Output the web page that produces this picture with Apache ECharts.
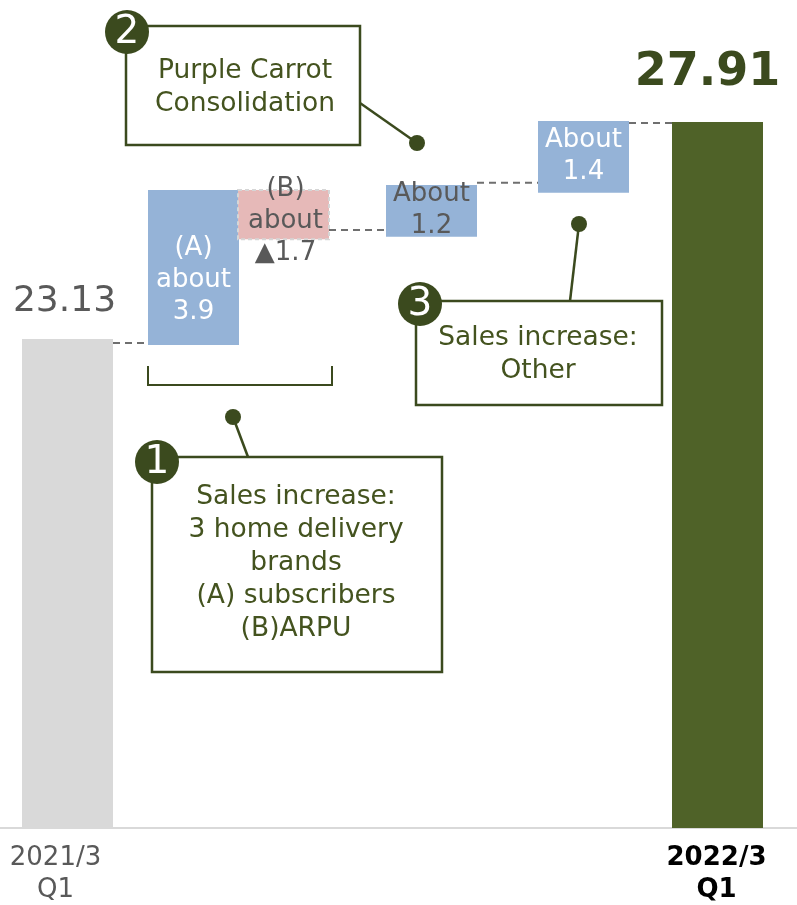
<!DOCTYPE html>
<html>
<head>
<meta charset="utf-8">
<title>Sales bridge 2021/3 Q1 - 2022/3 Q1</title>
<script src="https://cdn.jsdelivr.net/npm/echarts@6/dist/echarts.min.js"></script>
<style>
  html, body { margin: 0; padding: 0; background: #fff; }
  #main-chart { width: 797px; height: 905px; }
</style>
</head>
<body>
<div id="main-chart"></div>
<script>
// ---- data ----
const periods = ['2021/3\nQ1', '2022/3\nQ1']
const totals = [23.13, 27.91]
const stepNames = ['(A)', '(B)', '', '']
const stepWords = ['about', 'about', 'About', 'About']
const stepValues = [3.9, -1.7, 1.2, 1.4]
// the steps are not drawn to scale in the original, so these are the drawn extents
const stepFrom = [23.00, 26.41, 25.38, 26.35]
const stepTo = [26.41, 25.33, 26.52, 27.93]
// dashed connector levels between neighbouring bars
const connectorLevels = [23.04, 25.53, 26.57, 27.89]

// ---- layout ----
const W = 797
const AXIS_BOTTOM = 77
const PX_PER_UNIT = (339 - 122) / (totals[1] - totals[0])
const Y_MIN = totals[0] - (828 - 339) / PX_PER_UNIT
const Y_MAX = totals[1] + 122 / PX_PER_UNIT
const BAR_W = 91
const BAR_X = [67.5, 193.5, 283.5, 431.5, 583.5, 717.5]
const BAR_COLORS = ['#d9d9d9', '#95b3d7', '#e6b9b8', '#95b3d7', '#95b3d7', '#4f6228']
const OLIVE = '#3b4a1e'
const TEXT_OLIVE = '#44531f'
const GRAY_TEXT = '#595959'
const FONT = 'DejaVu Sans'

const stepLabel = i => {
  const v = stepValues[i] < 0 ? '▲' + Math.abs(stepValues[i]) : String(stepValues[i])
  return [stepNames[i], stepWords[i], v].filter(s => s).join('\n')
}

// label placement per bar: pos 'top' = above bar, otherwise centred in the bar
const LABEL_STYLE = [
  { pos: 'top', dx: -3, dy: -37, color: GRAY_TEXT, size: 36, weight: 'normal' },
  { pos: 'mid', dx: 0, dy: 13, color: '#ffffff', size: 26, weight: 'normal' },
  { pos: 'mid', dx: 2, dy: 7, color: GRAY_TEXT, size: 26, weight: 'normal' },
  { pos: 'mid', dx: 0, dy: -1, color: GRAY_TEXT, size: 26, weight: 'normal' },
  { pos: 'mid', dx: 0, dy: -1, color: '#ffffff', size: 26, weight: 'normal' },
  { pos: 'top', dx: -10, dy: -49, color: OLIVE, size: 46, weight: 'bold' }
]
const PERIOD_STYLE = [
  { dx: -12, color: GRAY_TEXT, weight: 'normal' },
  { dx: -1, color: '#000000', weight: 'bold' }
]

// bar table: [x, from, to]
const barTexts = [totals[0].toFixed(2)].concat(stepValues.map((v, i) => stepLabel(i)), [totals[1].toFixed(2)])
const barData = [[BAR_X[0], Y_MIN, totals[0]]]
  .concat(stepFrom.map((f, i) => [BAR_X[i + 1], f, stepTo[i]]))
  .concat([[BAR_X[5], Y_MIN, totals[1]]])

const connectorData = connectorLevels.map((lv, i) => {
  const from = i === 0 ? 0 : i + 1
  const to = i === 0 ? 1 : i + 2
  return [BAR_X[from] + BAR_W / 2, BAR_X[to] - BAR_W / 2, lv]
})

function renderBar(params, api) {
  const i = params.dataIndex
  const x = api.value(0)
  const pA = api.coord([x, api.value(1)])
  const pB = api.coord([x, api.value(2)])
  const top = Math.min(pA[1], pB[1])
  const bottom = Math.max(pA[1], pB[1])
  const isB = i === 2
  const children = [{
    type: 'rect',
    shape: { x: pA[0] - BAR_W / 2, y: top, width: BAR_W, height: bottom - top },
    style: {
      fill: BAR_COLORS[i],
      stroke: isB ? '#d6d6d6' : null,
      lineWidth: isB ? 2 : 0,
      lineDash: isB ? [4, 3] : null
    }
  }]
  const ls = LABEL_STYLE[i]
  children.push({
    type: 'text',
    x: pA[0] + ls.dx,
    y: (ls.pos === 'top' ? top : (top + bottom) / 2) + ls.dy,
    style: {
      text: barTexts[i],
      fill: ls.color,
      fontSize: ls.size,
      fontWeight: ls.weight,
      fontFamily: FONT,
      align: 'center',
      verticalAlign: 'middle',
      lineHeight: 32
    }
  })
  if (i === 0 || i === 5) {
    const k = i === 0 ? 0 : 1
    const base = api.coord([x, Y_MIN])
    children.push({
      type: 'text',
      x: base[0] + PERIOD_STYLE[k].dx,
      y: base[1] + 46,
      style: {
        text: periods[k],
        fill: PERIOD_STYLE[k].color,
        fontSize: 26,
        fontWeight: PERIOD_STYLE[k].weight,
        fontFamily: FONT,
        align: 'center',
        verticalAlign: 'middle',
        lineHeight: 32
      }
    })
  }
  return { type: 'group', children }
}

function renderConnector(params, api) {
  const p1 = api.coord([api.value(0), api.value(2)])
  const p2 = api.coord([api.value(1), api.value(2)])
  return {
    type: 'line',
    shape: { x1: p1[0], y1: p1[1], x2: p2[0], y2: p2[1] },
    style: { stroke: '#6f6f6f', lineWidth: 2, lineDash: [7, 5] }
  }
}

// callout helpers (annotation boxes drawn on top of the chart)
function callout(box, badge, text, textPos) {
  return [
    {
      type: 'rect',
      shape: { x: box[0], y: box[1], width: box[2], height: box[3] },
      style: { fill: '#ffffff', stroke: OLIVE, lineWidth: 2.5 },
      z: 10
    },
    {
      type: 'text',
      x: textPos[0], y: textPos[1],
      style: {
        text, fill: TEXT_OLIVE, fontSize: 26.5, fontFamily: FONT,
        align: 'center', verticalAlign: 'middle', lineHeight: 33
      },
      z: 11
    },
    {
      type: 'circle',
      shape: { cx: badge[0], cy: badge[1], r: 22 },
      style: { fill: OLIVE },
      z: 12
    },
    {
      type: 'text',
      x: badge[0], y: badge[1] + 1,
      style: {
        text: badge[2], fill: '#ffffff', fontSize: 39, fontFamily: FONT,
        align: 'center', verticalAlign: 'middle'
      },
      z: 13
    }
  ]
}
function pointer(from, to) {
  return [
    { type: 'line', shape: { x1: from[0], y1: from[1], x2: to[0], y2: to[1] }, style: { stroke: OLIVE, lineWidth: 2.5 }, z: 9 },
    { type: 'circle', shape: { cx: to[0], cy: to[1], r: 8 }, style: { fill: OLIVE }, z: 9 }
  ]
}

const graphics = []
  .concat(pointer([360, 103], [417, 143]))
  .concat(callout([126, 26, 234, 119], [127, 32, '2'], 'Purple Carrot\nConsolidation', [245, 88]))
  .concat(pointer([570, 301], [579, 224]))
  .concat(callout([416, 301, 246, 104], [420, 304, '3'], 'Sales increase:\nOther', [538, 355]))
  .concat(pointer([248, 457], [233, 417]))
  .concat(callout([152, 457, 290, 215], [157, 462, '1'],
    'Sales increase:\n3 home delivery\nbrands\n(A) subscribers\n(B)ARPU', [296, 563]))
  .concat([{
    type: 'polyline',
    shape: { points: [[148, 366], [148, 385], [332, 385], [332, 366]] },
    style: { stroke: OLIVE, lineWidth: 2, fill: null },
    z: 9
  }])

const myChart = echarts.init(document.getElementById('main-chart'))
const option = {
  animation: false,
  backgroundColor: '#ffffff',
  grid: { left: 0, right: 0, top: 0, bottom: AXIS_BOTTOM },
  xAxis: {
    type: 'value',
    min: 0,
    max: W,
    axisLine: { show: true, onZero: false, lineStyle: { color: '#d9d9d9', width: 2 } },
    axisTick: { show: false },
    axisLabel: { show: false },
    splitLine: { show: false }
  },
  yAxis: {
    type: 'value',
    min: Y_MIN,
    max: Y_MAX,
    show: false,
    splitLine: { show: false }
  },
  series: [
    {
      name: 'connectors',
      type: 'custom',
      renderItem: renderConnector,
      data: connectorData,
      z: 1,
      silent: true
    },
    {
      name: 'bridge',
      type: 'custom',
      renderItem: renderBar,
      data: barData,
      z: 2,
      silent: true
    }
  ],
  graphic: graphics
}
myChart.setOption(option)

window.addEventListener('resize', function () {
  myChart.resize()
})
</script>
</body>
</html>
